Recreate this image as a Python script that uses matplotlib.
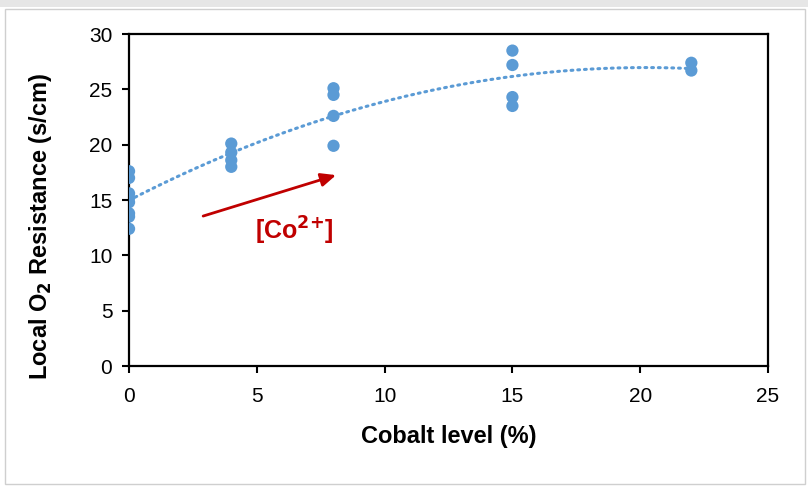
import numpy as np
import matplotlib
matplotlib.use("Agg")
import matplotlib.pyplot as plt
from matplotlib.patches import Rectangle

plt.rcParams['font.family'] = ['Liberation Sans', 'DejaVu Sans']

# Data
x0_vals = [17.6, 17.0, 15.6, 15.2, 14.8, 13.8, 13.5, 12.4]
x4_vals = [20.1, 19.3, 18.6, 18.0]
x8_vals = [25.1, 24.5, 22.6, 19.9]
x15_vals = [28.5, 27.2, 24.3, 23.5]
x22_vals = [27.4, 26.7]
cobalt_levels = [0, 4, 8, 15, 22]
groups = [x0_vals, x4_vals, x8_vals, x15_vals, x22_vals]

x = np.concatenate([[c] * len(g) for c, g in zip(cobalt_levels, groups)])
y = np.concatenate(groups)

blue = '#5B9BD5'
red = '#C00000'

fig = plt.figure(figsize=(8.08, 4.90), dpi=100)
fig.patch.set_facecolor('white')

# card border / shadow
fig.add_artist(Rectangle((0, 0.985), 1, 0.015, transform=fig.transFigure,
                         facecolor='#e6e6e6', edgecolor='none', zorder=0))
fig.add_artist(Rectangle((0.006, 0.012), 0.99, 0.97, transform=fig.transFigure,
                         facecolor='white', edgecolor='#cfcfcf', lw=1.0, zorder=0))

ax = fig.add_axes([0.1597, 0.253, 0.7908, 0.6776])

# polynomial trendline (order 2)
coef = np.polyfit(x, y, 2)
xt = np.linspace(0, 22, 200)
ax.plot(xt, np.polyval(coef, xt), linestyle=(0, (0.6, 1.6)), dash_capstyle='round',
        color=blue, lw=2.2, zorder=2)

ax.scatter(x, y, s=78, color=blue, edgecolors='none', zorder=3)

ax.set_xlim(0, 25)
ax.set_ylim(0, 30)
ax.set_xticks([0, 5, 10, 15, 20, 25])
ax.set_yticks([0, 5, 10, 15, 20, 25, 30])
for s in ax.spines.values():
    s.set_linewidth(1.6)
    s.set_color('black')
ax.tick_params(axis='both', direction='out', length=5, width=1.5, labelsize=15,
               colors='black')
ax.tick_params(axis='x', pad=10)
ax.tick_params(axis='y', pad=7)

ax.set_xlabel('Cobalt level (%)', fontsize=17, fontweight='bold', labelpad=14)
ax.set_ylabel('Local O$_\\mathbf{2}$ Resistance (s/cm)', fontsize=17, fontweight='bold')
ax.yaxis.set_label_coords(-0.118, 0.42)

ax.annotate('', xy=(8.1, 17.25), xytext=(2.9, 13.55),
            arrowprops=dict(arrowstyle='-|>,head_length=0.9,head_width=0.4',
                            color=red, lw=2.0, shrinkA=0, shrinkB=0))
ax.text(6.45, 12.2, '[Co$^{\\mathbf{2{+}}}$]', color=red, fontsize=18, fontweight='bold',
        ha='center', va='center')

fig.savefig('out.png', dpi=100, facecolor='white')
